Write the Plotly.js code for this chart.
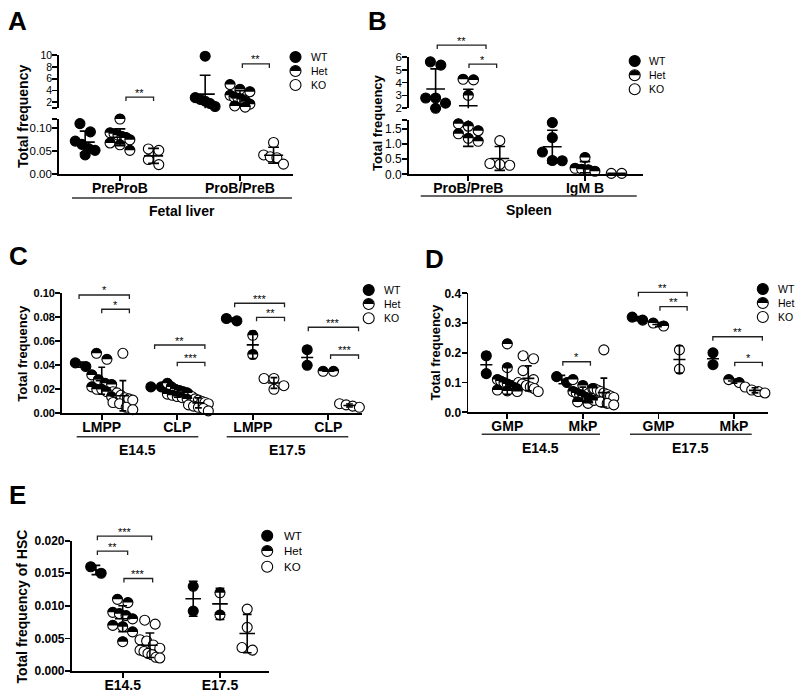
<!DOCTYPE html>
<html><head><meta charset="utf-8">
<script src="https://cdn.plot.ly/plotly-3.0.1.min.js"></script>
<style>html,body{margin:0;padding:0;background:#fff}#chart{width:800px;height:698px}</style>
</head><body><div id="chart"></div>
<script>
// ================= DATA =================
const groupNames = ['WT', 'Het', 'KO'];

// Panel A – fetal liver
const aCategories = ['PreProB', 'ProB/PreB'];
const aSuperGroups = ['Fetal liver'];
const aYTitle = 'Total frequency';
const aWT  = [[0.110, 0.092, 0.072, 0.065, 0.056, 0.052, 0.042], [9.8, 2.8, 2.5, 2.2, 1.8, 1.3]];
const aHet = [[0.120, 0.090, 0.088, 0.085, 0.082, 0.080, 0.075, 0.068, 0.064, 0.052], [5.0, 4.2, 3.8, 3.2, 2.9, 2.7, 2.5, 2.1, 1.7, 1.4, 1.2]];
const aKO  = [[0.055, 0.052, 0.032, 0.021], [0.069, 0.042, 0.038, 0.036, 0.022]];
const aTicksUpper = [1, 2, 4, 6, 8, 10];
const aTickTextUpper = ['', '2', '4', '6', '8', '10'];
const aTicksLower = [0, 0.05, 0.10, 0.12];
const aTickTextLower = ['0.00', '0.05', '0.10', ''];

// Panel B – spleen
const bCategories = ['ProB/PreB', 'IgM B'];
const bSuperGroups = ['Spleen'];
const bYTitle = 'Total frequency';
const bWT  = [[5.6, 5.35, 2.8, 2.8, 2.4, 2.0], [1.72, 1.22, 0.74, 0.46, 0.45]];
const bHet = [[4.25, 4.2, 3.0, 1.68, 1.6, 1.45, 1.35, 1.2, 1.1], [0.56, 0.2, 0.17, 0.15, 0.1]];
const bKO  = [[1.12, 0.36, 0.33, 0.3], [0.03, 0.03]];
const bTicksUpper = [2, 3, 4, 5, 6];
const bTickTextUpper = ['2', '3', '4', '5', '6'];
const bTicksLower = [0, 0.5, 1.0, 1.5, 1.8];
const bTickTextLower = ['0.0', '0.5', '1.0', '1.5', ''];

// Panel C – LMPP / CLP
const cCategories = ['LMPP', 'CLP', 'LMPP', 'CLP'];
const cSuperGroups = ['E14.5', 'E17.5'];
const cYTitle = 'Total frequency';
const cWT  = [[0.039, 0.042], [0.022, 0.022], [0.077, 0.079], [0.053, 0.040]];
const cHet = [[0.050, 0.045, 0.032, 0.028, 0.025, 0.024, 0.022, 0.020, 0.020, 0.018, 0.014],
              [0.025, 0.022, 0.020, 0.019, 0.018, 0.017, 0.016, 0.015, 0.014, 0.013, 0.012],
              [0.065, 0.049], [0.035, 0.035]];
const cKO  = [[0.050, 0.018, 0.017, 0.015, 0.013, 0.012, 0.011, 0.009, 0.008, 0.005, 0.003],
              [0.016, 0.014, 0.012, 0.011, 0.010, 0.009, 0.008, 0.007, 0.006, 0.005, 0.004, 0.002],
              [0.029, 0.029, 0.023, 0.020], [0.008, 0.007, 0.006, 0.005]];
const cTicks = [0, 0.02, 0.04, 0.06, 0.08, 0.10];
const cTickText = ['0.00', '0.02', '0.04', '0.06', '0.08', '0.10'];

// Panel D – GMP / MkP
const dCategories = ['GMP', 'MkP', 'GMP', 'MkP'];
const dSuperGroups = ['E14.5', 'E17.5'];
const dYTitle = 'Total frequency';
const dWT  = [[0.19, 0.13], [0.10, 0.12], [0.31, 0.32], [0.16, 0.20]];
const dHet = [[0.23, 0.15, 0.11, 0.105, 0.10, 0.095, 0.09, 0.085, 0.08, 0.075, 0.072, 0.07],
              [0.11, 0.09, 0.08, 0.07, 0.065, 0.06, 0.055, 0.05, 0.045, 0.04, 0.035, 0.03],
              [0.29, 0.30], [0.10, 0.11]];
const dKO  = [[0.19, 0.18, 0.14, 0.11, 0.10, 0.095, 0.09, 0.085, 0.08, 0.07],
              [0.21, 0.08, 0.075, 0.07, 0.065, 0.06, 0.055, 0.05, 0.04, 0.035, 0.03, 0.025],
              [0.21, 0.145], [0.085, 0.075, 0.07, 0.065]];
const dTicks = [0, 0.1, 0.2, 0.3, 0.4];
const dTickText = ['0.0', '0.1', '0.2', '0.3', '0.4'];

// Panel E – HSC
const eCategories = ['E14.5', 'E17.5'];
const eYTitle = 'Total frequency of HSC';
const eWT  = [[0.015, 0.016], [0.013, 0.0092]];
const eHet = [[0.011, 0.0105, 0.009, 0.0088, 0.0085, 0.008, 0.007, 0.0068, 0.006, 0.0045], [0.012, 0.0086]];
const eKO  = [[0.0078, 0.0072, 0.0048, 0.0046, 0.004, 0.0035, 0.0032, 0.003, 0.0027, 0.0025, 0.0021, 0.002], [0.0095, 0.0067, 0.0036, 0.0032]];
const eTicks = [0, 0.005, 0.010, 0.015, 0.020];
const eTickText = ['0.000', '0.005', '0.010', '0.015', '0.020'];

// significance comparisons (category index, bracket ends relative to category, height in axis units)
const aSig = [{cat: 0, from: 0.05, to: 0.28, level: 2.9, label: '**'}, {cat: 1, from: 0.02, to: 0.245, level: 8.5, label: '**'}];
const bSig = [{cat: 0, from: -0.266, to: 0.152, level: 6.9, label: '**'}, {cat: 0, from: 0.006, to: 0.243, level: 5.43, label: '*'}];
const cSig = [{cat: 0, from: -0.3, to: 0.366, level: 0.0986, label: '*'}, {cat: 0, from: 0, to: 0.366, level: 0.0867, label: '*'},
              {cat: 1, from: -0.3, to: 0.366, level: 0.0569, label: '**'}, {cat: 1, from: 0, to: 0.366, level: 0.0425, label: '***'},
              {cat: 2, from: -0.24, to: 0.42, level: 0.0917, label: '***'}, {cat: 2, from: 0.05, to: 0.42, level: 0.080, label: '**'},
              {cat: 3, from: -0.265, to: 0.40, level: 0.0717, label: '***'}, {cat: 3, from: 0.03, to: 0.40, level: 0.0486, label: '***'}];
const dSig = [{cat: 2, from: -0.265, to: 0.38, level: 0.403, label: '**'}, {cat: 2, from: 0.02, to: 0.38, level: 0.355, label: '**'},
              {cat: 3, from: -0.28, to: 0.375, level: 0.254, label: '**'}, {cat: 3, from: 0.01, to: 0.375, level: 0.168, label: '*'},
              {cat: 1, from: -0.265, to: 0.10, level: 0.17, label: '*'}];
const eSig = [{cat: 0, from: -0.26, to: 0.298, level: 0.0207, label: '***'}, {cat: 0, from: -0.26, to: 0.051, level: 0.0184, label: '**'},
              {cat: 0, from: 0.013, to: 0.308, level: 0.0142, label: '***'}];

// ================= LAYOUT CONFIG =================
const W = 800, H = 698;
const FONT = '"Liberation Sans", Arial, Helvetica, sans-serif';
const LW = 1.8;
const MARK = 10, MLINE = 1.1, DIAM = 11;

const panels = [
  {letter: 'A', letterPos: [17.5, 21], cats: aCategories, series: [aWT, aHet, aKO], sig: aSig,
   xa: 'x', xPx: [59, 293], xRange: [0.492, 2.442], offs: [-0.29, 0, 0.28],
   segs: [{ya: 'y', px: [55, 108.3], range: [1, 10], tv: aTicksUpper, tt: aTickTextUpper, fs: 10.5},
          {ya: 'y2', px: [119, 174.3], range: [0, 0.12], tv: aTicksLower, tt: aTickTextLower, fs: 11.5}],
   tickBold: false, ytitle: aYTitle, ytPos: [22.3, 116.7], ytSize: 14,
   supers: aSuperGroups, superPos: [{x0: 72, x1: 292, y: 198, ty: 211}],
   legend: {mx: 295.5, tx: 309, rows: [57, 71, 85], size: 10.5}},
  {letter: 'B', letterPos: [377.5, 21], cats: bCategories, series: [bWT, bHet, bKO], sig: bSig,
   xa: 'x2', xPx: [409, 643], xRange: [0.492, 2.497], offs: [-0.28, 0, 0.27],
   segs: [{ya: 'y3', px: [56.7, 108.3], range: [2, 6], tv: bTicksUpper, tt: bTickTextUpper, fs: 11.5},
          {ya: 'y4', px: [120.2, 174.3], range: [0, 1.8], tv: bTicksLower, tt: bTickTextLower, fs: 12}],
   tickBold: false, ytitle: bYTitle, ytPos: [377.5, 122.5], ytSize: 13,
   supers: bSuperGroups, superPos: [{x0: 420.7, x1: 636.7, y: 196, ty: 210}],
   legend: {mx: 634.7, tx: 647.3, rows: [61, 75.3, 89.3], size: 10.5}},
  {letter: 'C', letterPos: [18.5, 256], cats: cCategories, series: [cWT, cHet, cKO], sig: cSig,
   xa: 'x3', xPx: [62, 361.7], xRange: [0.474, 4.442], offs: [-0.28, 0, 0.28],
   segs: [{ya: 'y5', px: [293.3, 413.3], range: [0, 0.1], tv: cTicks, tt: cTickText, fs: 11}],
   tickBold: true, ytitle: cYTitle, ytPos: [21.7, 353], ytSize: 13,
   supers: cSuperGroups, superPos: [{x0: 76.7, x1: 198.3, y: 436.7, ty: 450}, {x0: 226.7, x1: 348.3, y: 436.7, ty: 450}],
   legend: {mx: 368.7, tx: 381.7, rows: [290, 304, 318.3], size: 10.5}},
  {letter: 'D', letterPos: [435, 258.5], cats: dCategories, series: [dWT, dHet, dKO], sig: dSig,
   xa: 'x4', xPx: [468.3, 768.3], xRange: [0.484, 4.454], offs: [-0.278, 0, 0.278],
   segs: [{ya: 'y6', px: [293.3, 412.3], range: [0, 0.4], tv: dTicks, tt: dTickText, fs: 12}],
   tickBold: true, ytitle: dYTitle, ytPos: [435.8, 351.7], ytSize: 13,
   supers: dSuperGroups, superPos: [{x0: 481.7, x1: 600, y: 434.3, ty: 448}, {x0: 630, x1: 751.7, y: 434.3, ty: 448}],
   legend: {mx: 762.8, tx: 776, rows: [289, 303, 317], size: 10.5}},
  {letter: 'E', letterPos: [17.5, 495], cats: eCategories, series: [eWT, eHet, eKO], sig: eSig,
   xa: 'x5', xPx: [71.7, 269.3], xRange: [0.476, 2.507], offs: [-0.275, 0, 0.28],
   segs: [{ya: 'y7', px: [540.7, 671], range: [0, 0.02], tv: eTicks, tt: eTickText, fs: 12}],
   tickBold: true, ytitle: eYTitle, ytPos: [21.7, 606.7], ytSize: 14,
   supers: [], superPos: [],
   legend: {mx: 267.2, tx: 281.7, rows: [535.7, 551, 566.7], size: 11.5}}
];

// ================= HELPERS =================
const b = (s, on) => (on && s !== '' ? '<b>' + s + '</b>' : s);
const axName = id => id.charAt(0) + 'axis' + id.slice(1);
function segOf(p, v) {
  for (const s of p.segs) if (v >= s.range[0] && v <= s.range[1] * 1.0001) return s;
  let best = p.segs[0], bd = Infinity;
  p.segs.forEach(s => { const d = Math.min(Math.abs(v - s.range[0]), Math.abs(v - s.range[1])); if (d < bd) { bd = d; best = s; } });
  return best;
}
function approxPy(s, v) { return s.px[1] - (v - s.range[0]) / (s.range[1] - s.range[0]) * (s.px[1] - s.px[0]); }
function meanSd(a) {
  const n = a.length, m = a.reduce((t, x) => t + x, 0) / n;
  const sd = n > 1 ? Math.sqrt(a.reduce((t, x) => t + (x - m) * (x - m), 0) / (n - 1)) : 0;
  return [m, sd];
}
// GraphPad-like horizontal spreading of overlapping points (row binning)
function spread(p, vals, center, pxPerX) {
  const pts = vals.map((v, i) => ({v, i, py: approxPy(segOf(p, v), v)})).sort((a, c) => a.py - c.py);
  const rows = []; let cur = null;
  pts.forEach(q => { if (!cur || q.py - cur.start > 0.9 * DIAM) { cur = {start: q.py, pts: []}; rows.push(cur); } cur.pts.push(q); });
  const xs = new Array(vals.length);
  rows.forEach(r => {
    const n = r.pts.length;
    const step = n > 1 ? Math.min(0.95 * DIAM, 1.8 * DIAM / (n - 1)) : 0;
    r.pts.forEach((q, k) => { xs[q.i] = center + (k - (n - 1) / 2) * step / pxPerX; });
  });
  return xs;
}

// ================= TRACES =================
const markerTraces = [], lineTraces = [], hetPts = [];
const fills = ['#000000', '#ffffff', '#ffffff'];
panels.forEach(p => {
  const pxPerX = (p.xPx[1] - p.xPx[0]) / (p.xRange[1] - p.xRange[0]);
  const hw = 0.08, cw = 0.045;
  p.series.forEach((ser, g) => {
    const bySeg = {}; p.segs.forEach(s => { bySeg[s.ya] = {x: [], y: []}; });
    const lx = [], ly = [];
    ser.forEach((vals, c) => {
      const center = c + 1 + p.offs[g];
      const xs = spread(p, vals, center, pxPerX);
      vals.forEach((v, i) => {
        const s = segOf(p, v);
        bySeg[s.ya].x.push(xs[i]); bySeg[s.ya].y.push(v);
        if (g === 1) hetPts.push({xa: p.xa, ya: s.ya, x: xs[i], v: v});
      });
      const ms = meanSd(vals), m = ms[0], sd = ms[1];
      lx.push(center - hw, center + hw, null); ly.push(m, m, null);
      if (sd > 0) {
        lx.push(center, center, null, center - cw, center + cw, null, center - cw, center + cw, null);
        ly.push(m - sd, m + sd, null, m + sd, m + sd, null, m - sd, m - sd, null);
      }
    });
    p.segs.forEach(s => {
      markerTraces.push({type: 'scatter', mode: 'markers', xaxis: p.xa, yaxis: s.ya, x: bySeg[s.ya].x, y: bySeg[s.ya].y,
        name: groupNames[g], showlegend: false, cliponaxis: false, hoverinfo: 'skip',
        marker: {symbol: 'circle', size: MARK, color: fills[g], line: {color: '#000', width: MLINE}}});
      lineTraces.push({type: 'scatter', mode: 'lines', xaxis: p.xa, yaxis: s.ya, x: lx, y: ly, name: groupNames[g] + ' mean ± SD',
        showlegend: false, hoverinfo: 'skip', connectgaps: false, line: {color: '#000', width: 1.6}});
    });
  });
});
const traces = markerTraces.concat(lineTraces);

// ================= LAYOUT =================
const layout = {width: W, height: H, margin: {l: 0, r: 0, t: 0, b: 0}, paper_bgcolor: '#fff', plot_bgcolor: 'rgba(0,0,0,0)',
  showlegend: false, font: {family: FONT, color: '#000'}, annotations: [], shapes: []};
const axisCommon = {showline: true, linecolor: '#000', linewidth: LW, ticks: 'outside', ticklen: 5, tickwidth: LW, tickcolor: '#000',
  showgrid: false, zeroline: false, fixedrange: true, tickmode: 'array'};
const px2x = v => v / W, px2y = v => 1 - v / H;
const ann = (text, x, y, o) => Object.assign({text: text, x: px2x(x), y: px2y(y), xref: 'paper', yref: 'paper', showarrow: false,
  xanchor: 'center', yanchor: 'middle', font: {family: FONT, size: 12, color: '#000'}}, o || {});

function halfDisc(X, Y, r) {
  const pts = [];
  for (let k = 0; k <= 18; k++) { const t = Math.PI * k / 18; pts.push(px2x(X + r * Math.cos(t)).toFixed(5) + ',' + px2y(Y - r * Math.sin(t)).toFixed(5)); }
  return {type: 'path', xref: 'paper', yref: 'paper', path: 'M' + pts.join(' L') + ' Z', fillcolor: '#000', line: {width: 0}, layer: 'above'};
}

panels.forEach(p => {
  const bottom = p.segs[p.segs.length - 1];
  layout[axName(p.xa)] = Object.assign({}, axisCommon, {domain: [p.xPx[0] / W, p.xPx[1] / W], range: p.xRange, anchor: bottom.ya,
    tickvals: p.cats.map((_, i) => i + 1), ticktext: p.cats.map(t => '<b>' + t + '</b>'), ticklabelstandoff: -5,
    tickfont: {family: FONT, size: 14, color: '#000'}});
  p.segs.forEach(s => {
    layout[axName(s.ya)] = Object.assign({}, axisCommon, {domain: [1 - s.px[1] / H, 1 - s.px[0] / H], range: s.range, anchor: p.xa,
      tickvals: s.tv, ticktext: s.tt.map(t => b(t, p.tickBold)), ticklabelstandoff: -2, tickfont: {family: FONT, size: s.fs, color: '#000'}});
  });
  layout.annotations.push(ann('<b>' + p.letter + '</b>', p.letterPos[0], p.letterPos[1], {font: {family: FONT, size: 26, color: '#000'}}));
  layout.annotations.push(ann('<b>' + p.ytitle + '</b>', p.ytPos[0], p.ytPos[1], {textangle: -90, font: {family: FONT, size: p.ytSize, color: '#000'}}));
  p.supers.forEach((t, i) => {
    const sp = p.superPos[i];
    layout.shapes.push({type: 'line', xref: 'paper', yref: 'paper', x0: px2x(sp.x0), x1: px2x(sp.x1), y0: px2y(sp.y), y1: px2y(sp.y), line: {color: '#333', width: 1.4}});
    layout.annotations.push(ann('<b>' + t + '</b>', (sp.x0 + sp.x1) / 2, sp.ty, {font: {family: FONT, size: 14, color: '#000'}}));
  });
  // legend
  const L = p.legend, r = 5.5;
  groupNames.forEach((gname, g) => {
    const cy = L.rows[g];
    layout.shapes.push({type: 'circle', xref: 'paper', yref: 'paper', x0: px2x(L.mx - r), x1: px2x(L.mx + r), y0: px2y(cy + r), y1: px2y(cy - r),
      fillcolor: fills[g], line: {color: '#000', width: 1.1}});
    if (g === 1) layout.shapes.push(halfDisc(L.mx, cy, r - 0.3));
    layout.annotations.push(ann(gname, L.tx, cy, {xanchor: 'left', font: {family: FONT, size: L.size, color: '#000'}}));
  });
});

const gd = document.getElementById('chart');
Plotly.newPlot(gd, traces, layout, {staticPlot: true, displayModeBar: false}).then(() => {
  const fl = gd._fullLayout;
  const X = (xa, v) => { const a = fl[axName(xa)]; return a._offset + a.l2p(v); };
  const Y = (ya, v) => { const a = fl[axName(ya)]; return a._offset + a.l2p(v); };
  const shapes = layout.shapes.slice(), anns = layout.annotations.slice();
  hetPts.forEach(h => shapes.push(halfDisc(X(h.xa, h.x), Y(h.ya, h.v), MARK / 2 + 0.2)));
  panels.forEach(p => {
    const top = p.segs[0];
    p.sig.forEach(s => {
      const x0 = X(p.xa, s.cat + 1 + s.from), x1 = X(p.xa, s.cat + 1 + s.to), y = Y(top.ya, s.level);
      shapes.push({type: 'path', xref: 'paper', yref: 'paper',
        path: 'M' + px2x(x0) + ',' + px2y(y + 4) + ' L' + px2x(x0) + ',' + px2y(y) + ' L' + px2x(x1) + ',' + px2y(y) + ' L' + px2x(x1) + ',' + px2y(y + 4),
        line: {color: '#222', width: 1.3}});
      anns.push(ann(s.label, (x0 + x1) / 2, y - 4.5, {font: {family: FONT, size: 11, color: '#000'}}));
    });
  });
  return Plotly.relayout(gd, {shapes: shapes, annotations: anns});
});
</script>
</body></html>
